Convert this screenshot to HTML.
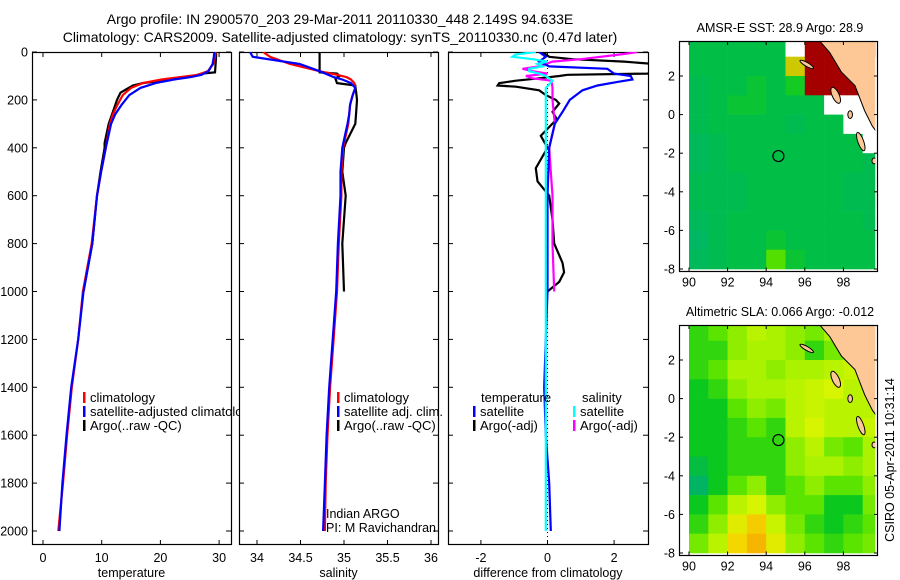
<!DOCTYPE html>
<html><head><meta charset="utf-8">
<style>
html,body{margin:0;padding:0;background:#fff;}
svg{display:block;font-family:"Liberation Sans",sans-serif;}
text{fill:#000;}
</style></head>
<body>
<svg id="fig" width="900" height="580" viewBox="0 0 900 580" xmlns="http://www.w3.org/2000/svg">
<defs><clipPath id="clip-legend1"><rect x="0" y="380" width="239" height="60"/></clipPath></defs>
<text x="340" y="24" font-size="14" text-anchor="middle">Argo profile: IN 2900570_203 29-Mar-2011 20110330_448 2.149S 94.633E</text>
<text x="340" y="42" font-size="14" text-anchor="middle">Climatology: CARS2009. Satellite-adjusted climatology: synTS_20110330.nc (0.47d later)</text>
<text x="780" y="32" font-size="12.5" text-anchor="middle">AMSR-E SST: 28.9 Argo: 28.9</text>
<text x="780" y="316" font-size="12.5" text-anchor="middle">Altimetric SLA: 0.066 Argo: -0.012</text>
<text transform="translate(894,460) rotate(-90)" font-size="12.5" text-anchor="middle">CSIRO 05-Apr-2011 10:31:14</text>
<g id="layer"></g>
</svg>
<script>
// ---------- data ----------
const depthTicks=[0,200,400,600,800,1000,1200,1400,1600,1800,2000];
const tempTicks=[0,10,20,30];
const salTicks=[34,34.5,35,35.5,36];
const diffTicks=[-2,0,2];
const climDepth=[0,20,50,80,95,105,115,130,150,180,220,260,300,400,500,600,800,1000,1200,1400,1600,1800,2000];
const climTemp=[29.4,29.3,29.0,28.1,26.4,23.4,20.2,17.0,15.0,13.6,12.7,11.9,11.4,10.7,9.9,9.2,8.3,6.8,6.0,4.9,4.1,3.4,2.6];
const satTemp=[29.2,29.1,28.9,28.2,27.0,25.2,22.3,19.2,16.6,14.7,13.4,12.3,11.6,10.7,9.9,9.2,8.4,6.9,6.0,4.8,4.0,3.3,2.8];
const argoDepth=[0,10,50,85,90,100,110,130,140,170,200,250,300,380,400,500,600,800,1000];
const argoTemp=[29.3,29.5,29.4,29.3,27.0,25.6,23.2,17.0,15.3,13.2,12.6,11.9,11.2,10.5,10.5,9.8,9.2,8.4,6.9];
const climSal=[34.07,34.15,34.38,34.72,34.92,35.03,35.08,35.12,35.13,35.1,35.07,35.06,35.05,34.99,34.97,34.97,34.94,34.92,34.88,34.84,34.81,34.79,34.78];
const satSal=[33.92,33.95,34.49,34.72,34.82,34.88,34.98,35.08,35.13,35.1,35.07,35.06,35.04,34.98,34.96,34.96,34.93,34.91,34.87,34.83,34.8,34.78,34.76];
const argoSal=[34.72,34.72,34.72,34.72,34.92,34.95,34.9,34.92,35.13,35.14,35.15,35.14,35.13,35.02,35.0,34.98,35.02,34.98,35.0];
const dTempDepth=[0,20,40,60,70,90,100,115,125,140,160,200,250,300,400,600,800,1000,1200,1400,1600,1800,2000];
const dTempSat=[-0.25,-0.05,-0.25,0.05,1.8,2.0,2.5,2.55,2.1,1.5,1.05,0.67,0.45,0.22,0.05,0.0,0.0,0.0,-0.05,-0.1,-0.05,0.05,0.1];
const dArgoDepth=[0,20,30,40,50,80,90,95,100,110,120,130,140,145,160,180,200,215,250,280,350,400,485,540,600,700,800,880,920,960,1000];
const dTempArgo=[-0.15,0.05,0.75,2.3,3.2,3.2,3.0,0.6,0.35,-0.25,-0.95,-1.45,-1.5,-0.95,-0.25,-0.05,0.25,0.35,0.15,0.28,-0.2,0.0,-0.35,-0.3,0.05,0.15,0.2,0.45,0.5,0.35,0.0];
const dSalDepth=[0,10,30,40,60,70,80,90,100,110,120,150,200,300,400,500,600,800,1000];
const dSalArgo=[2.7,2.2,1.0,0.15,-0.25,-0.75,-0.45,0.0,-0.65,-0.45,0.12,0.15,0.15,0.22,0.05,0.1,0.15,0.15,0.2];
const dSalSatDepth=[0,10,20,30,40,50,60,70,80,90,100,120,150,200,600,1000,1400,2000];
const dSalSat=[-0.35,-0.95,-1.05,-0.45,0.0,-0.3,-0.15,-0.55,-0.55,-0.25,-0.05,0.15,-0.05,-0.05,-0.05,-0.05,-0.05,-0.05];
// maps
const lonTicks=[90,92,94,96,98];
const latTicks=[2,0,-2,-4,-6,-8];
const gridLon=[90,91,92,93,94,95,96,97,98,99];
const gridLat=[3.5,2.5,1.5,0.5,-0.5,-1.5,-2.5,-3.5,-4.5,-5.5,-6.5,-7.5];
const N=NaN;
const sstGrid=[
[28.9,28.9,28.9,28.9,28.9,N,31,31,31,31],
[28.9,28.9,28.9,28.9,28.9,29.8,31,31,31,N],
[28.8,28.9,28.9,29.0,28.9,29.1,31,31,31,N],
[28.8,28.9,29.0,29.0,28.9,28.9,28.9,N,N,N],
[28.8,28.9,28.9,28.9,28.9,28.8,28.9,28.9,N,N],
[28.7,28.8,28.9,28.9,28.9,28.9,28.9,28.9,28.9,N],
[28.7,28.8,28.9,28.9,28.9,28.9,28.9,28.9,28.9,28.8],
[28.8,28.8,28.8,28.9,28.9,28.9,28.9,28.9,28.8,28.8],
[28.8,28.8,28.8,28.9,28.9,28.9,28.9,28.9,28.8,28.8],
[28.7,28.8,28.9,28.9,28.9,28.9,28.9,28.9,28.9,28.8],
[28.6,28.8,28.9,28.9,29.0,28.9,28.9,28.9,28.9,28.9],
[28.7,28.8,28.9,28.9,29.4,29.0,28.9,28.9,28.9,28.9]];
const slaGrid=[
[0.1,0.2,0.4,0.6,0.5,0.4,0.3,0.5,0.6,0.6],
[0.1,0.1,0.4,0.5,0.5,0.4,0.1,0.3,0.6,0.6],
[0.1,0.2,0.5,0.5,0.4,0.5,0.5,0.6,0.7,0.7],
[0.0,0.1,0.4,0.5,0.5,0.6,0.7,0.8,0.6,0.7],
[0.0,0.0,0.2,0.4,0.3,0.6,0.7,0.6,0.6,0.6],
[0.0,0.0,0.1,0.2,0.1,0.6,0.8,0.6,0.6,0.7],
[0.0,0.0,0.1,0.1,0.1,0.4,0.6,0.3,0.2,0.5],
[-0.1,0.0,0.1,0.1,0.1,0.4,0.5,0.5,0.4,0.5],
[-0.2,0.0,0.2,0.4,0.1,0.2,0.4,0.2,0.2,0.4],
[0.0,0.2,0.6,0.8,0.4,0.2,0.2,0.0,0.0,0.3],
[0.1,0.4,0.9,1.2,0.7,0.3,0.1,0.0,0.1,0.2],
[0.3,0.6,1.1,1.4,0.9,0.4,0.2,0.1,0.2,0.3]];
const coastLon=[96.7,97.3,97.9,98.6,99.1,99.5,99.8,99.8];
const coastLat=[3.9,3.2,2.2,1.5,0.2,-0.6,-1.0,3.9];
const floatLon=94.633, floatLat=-2.149;

// ---------- drawing ----------
const NS="http://www.w3.org/2000/svg";
const layer=document.getElementById('layer');
function mk(tag,attrs,parent){const e=document.createElementNS(NS,tag);for(const k in attrs)e.setAttribute(k,attrs[k]);(parent||layer).appendChild(e);return e;}
function txt(x,y,s,size,anchor,parent){const t=mk('text',{x:x,y:y,'font-size':size||12.5,'text-anchor':anchor||'start'},parent);t.textContent=s;return t;}

const yD=d=>52+d*0.2395;
const panels=[
 {name:'temperature',x0:32,x1:231,xs:v=>43+v*5.87,ticks:tempTicks,lab:'temperature',ylabels:true},
 {name:'salinity',x0:239,x1:438,xs:v=>257+(v-34)*87,ticks:salTicks,lab:'salinity'},
 {name:'difference',x0:448,x1:648,xs:v=>547.5+v*33.3,ticks:diffTicks,lab:'difference from climatology'}
];
function line(p,depths,vals,color,name){
  const g=mk('g',{});
  
  
  let d='';
  depths.forEach((z,i)=>{d+=(i?'L':'M')+p.xs(vals[i]).toFixed(1)+','+yD(z).toFixed(1);});
  const pa=mk('path',{d:d,fill:'none',stroke:color,'stroke-width':2.2,'clip-path':'url(#clip-'+p.name+')'},g);
  
  
}
panels.forEach(p=>{
  const g=mk('g',{});
  
  
  const cp=mk('clipPath',{id:'clip-'+p.name},g);
  mk('rect',{x:p.x0,y:52,width:p.x1-p.x0,height:493},cp);
  const fr=mk('rect',{x:p.x0+0.5,y:52.5,width:p.x1-p.x0,height:492,fill:'none',stroke:'#000','stroke-width':1.2},g);
  
  
  p.ticks.forEach(v=>{const x=p.xs(v);
    mk('line',{x1:x,x2:x,y1:52,y2:57,stroke:'#000'},g);
    mk('line',{x1:x,x2:x,y1:545,y2:540,stroke:'#000'},g);
    const t=txt(x,562,String(v),12.5,'middle',g);
    
    
  });
  depthTicks.forEach(d=>{const y=yD(d);
    mk('line',{x1:p.x0,x2:p.x0+5,y1:y,y2:y,stroke:'#000'},g);
    mk('line',{x1:p.x1,x2:p.x1-5,y1:y,y2:y,stroke:'#000'},g);
    if(p.ylabels){const t=txt(28,y+4.5,String(d),12.5,'end',g);
      
      }
  });
  const xl=txt((p.x0+p.x1)/2,577,p.lab,12.5,'middle',g);
  
  
});
const [pT,pS,pD]=panels;
{const z=mk('line',{x1:pD.xs(0),x2:pD.xs(0),y1:52,y2:545,stroke:'#000','stroke-dasharray':'1,3'});
 
 }
line(pT,argoDepth,argoTemp,'#000','argo-temperature-line');
line(pT,climDepth,climTemp,'#f00','climatology-temperature-line');
line(pT,climDepth,satTemp,'#00f','satellite-temperature-line');
line(pS,argoDepth,argoSal,'#000','argo-salinity-line');
line(pS,climDepth,climSal,'#f00','climatology-salinity-line');
line(pS,climDepth,satSal,'#00f','satellite-salinity-line');
line(pD,dArgoDepth,dTempArgo,'#000','argo-temperature-diff-line');
line(pD,dSalDepth,dSalArgo,'#f0f','argo-salinity-diff-line');
line(pD,dTempDepth,dTempSat,'#00f','satellite-temperature-diff-line');
line(pD,dSalSatDepth,dSalSat,'#0ff','satellite-salinity-diff-line');

function legend(x,y,color,label,name,clip){
  const g=mk('g',clip?{'clip-path':'url(#'+clip+')'}:{});
  
  
  mk('rect',{x:x,y:y-10,width:2.5,height:11,fill:color},g);
  txt(x+7,y,label,13,'start',g);
}
legend(83,402,'#f00','climatology','legend-climatology','clip-legend1');
legend(83,416,'#00f','satellite-adjusted climatology','legend-satellite-adjusted','clip-legend1');
legend(83,430,'#000','Argo(..raw -QC)','legend-argo','clip-legend1');
legend(337,402,'#f00','climatology','legend-sal-climatology');
legend(337,416,'#00f','satellite adj. clim.','legend-sal-satellite');
legend(337,430,'#000','Argo(..raw -QC)','legend-sal-argo');
{const t=txt(481,402,'temperature',13);
 const s=txt(582,402,'salinity',13);}
legend(473,416,'#00f','satellite','legend-diff-temp-satellite');
legend(473,430,'#000','Argo(-adj)','legend-diff-temp-argo');
legend(573,416,'#0ff','satellite','legend-diff-sal-satellite');
legend(573,430,'#f0f','Argo(-adj)','legend-diff-sal-argo');
{const a=txt(326,518,'Indian ARGO',12.5);
 const b=txt(326,532,'PI: M Ravichandran',12.5);b.setAttribute('textLength','110');}

// ---------- maps ----------
function cmap(v,stops){if(isNaN(v))return '#fff';
  if(v<=stops[0][0])return 'rgb('+stops[0][1]+')';
  for(let i=1;i<stops.length;i++){if(v<=stops[i][0]){const a=stops[i-1],b=stops[i],t=(v-a[0])/(b[0]-a[0]);
    return 'rgb('+a[1].map((c,k)=>Math.round(c+(b[1][k]-c)*t)).join(',')+')';}}
  return 'rgb('+stops[stops.length-1][1]+')';}
const sstStops=[[28.5,[0,180,110]],[28.9,[0,190,70]],[29.3,[40,215,0]],[29.6,[170,240,0]],[30,[240,160,0]],[30.5,[220,90,0]],[31,[165,0,0]]];
const slaStops=[[-0.2,[0,180,100]],[0,[10,200,30]],[0.2,[90,228,0]],[0.5,[170,242,0]],[0.8,[215,245,0]],[1.1,[245,215,0]],[1.5,[245,170,0]]];
function drawMap(name,top,grid,stops){
  const g=mk('g',{});
  
  
  const xL=lon=>689+(lon-90)*19.3;
  const yL=lat=>top+74+(2-lat)*19.3;
  const y2=yL(2)-35;
  const cid='clip-'+name;
  const cp=mk('clipPath',{id:cid},g);
  mk('rect',{x:xL(89.85),y:y2,width:xL(99.65)-xL(89.85),height:yL(-8.05)-y2},cp);
  const cells=mk('g',{'clip-path':'url(#'+cid+')'},g);
  grid.forEach((row,r)=>row.forEach((v,c)=>{
    const rc=mk('rect',{x:xL(gridLon[c]),y:yL(gridLat[r]+0.5),width:19.6,height:19.6,fill:cmap(v,stops)},cells);
    
    
  }));
  const lg=mk('g',{'clip-path':'url(#'+cid+')'},g);
  let d='';coastLon.forEach((lo,i)=>{d+=(i?'L':'M')+xL(lo)+','+yL(coastLat[i]);});
  const land=mk('path',{d:d+'Z',fill:'#fdc896',stroke:'#000','stroke-width':1},lg);
  
  
  [[96.1,2.6,0.4,0.1,30],[97.6,1.0,0.18,0.45,-25],[98.35,0.0,0.12,0.2,0],[98.9,-1.4,0.15,0.5,-20],[99.6,-2.4,0.12,0.15,0]].forEach(s=>{
    const e=mk('ellipse',{cx:xL(s[0]),cy:yL(s[1]),rx:s[2]*19.3,ry:s[3]*19.3,fill:'#fdc896',stroke:'#000','stroke-width':1,transform:'rotate('+s[4]+' '+xL(s[0])+' '+yL(s[1])+')'},lg);
    
    
  });
  const fr=mk('rect',{x:679.5,y:y2+0.5,width:198,height:yL(-8)+2-y2,fill:'none',stroke:'#000','stroke-width':1.2},g);
  
  
  const bottom=yL(-8)+2.5;
  lonTicks.forEach(lo=>{const x=xL(lo);
    mk('line',{x1:x,x2:x,y1:y2,y2:y2+4,stroke:'#000'},g);
    mk('line',{x1:x,x2:x,y1:bottom,y2:bottom-4,stroke:'#000'},g);
    const t=txt(x,bottom+15,String(lo),12.5,'middle',g);
    
    
  });
  latTicks.forEach(la=>{const y=yL(la);
    mk('line',{x1:679,x2:683,y1:y,y2:y,stroke:'#000'},g);
    mk('line',{x1:878,x2:874,y1:y,y2:y,stroke:'#000'},g);
    const t=txt(675,y+4.5,String(la),12.5,'end',g);
    
    
  });
  const c=mk('circle',{cx:xL(floatLon),cy:yL(floatLat),r:5.5,fill:'none',stroke:'#000','stroke-width':1.2},g);
  
  
}
drawMap('sst-map',2,sstGrid,sstStops);
drawMap('sla-map',286,slaGrid,slaStops);
</script>
</body></html>
